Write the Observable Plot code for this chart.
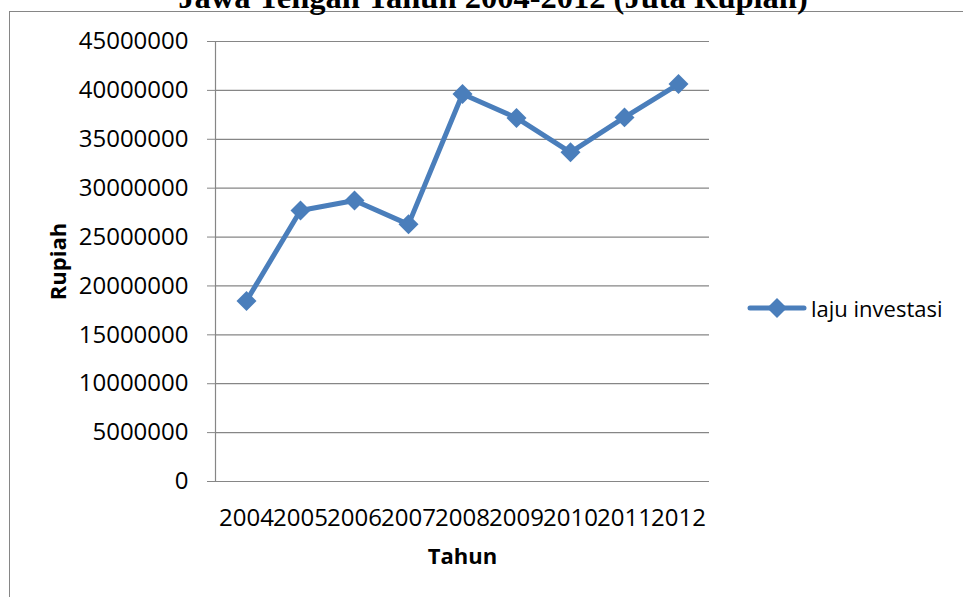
<!DOCTYPE html>
<html>
<head>
<meta charset="utf-8">
<script src="https://cdn.jsdelivr.net/npm/d3@7"></script>
<script src="https://cdn.jsdelivr.net/npm/@observablehq/plot@0.6"></script>
<style>
  html, body { margin: 0; padding: 0; background: #fff; }
  #wrap { position: relative; width: 963px; height: 597px; overflow: hidden; background: #fff; }
  #border { position: absolute; left: 9px; top: 11px; width: 1000px; height: 1000px;
            border-left: 1.5px solid #868686; border-top: 1.5px solid #868686; }
  #title { position: absolute; left: 493px; top: -19px; transform: translateX(-50%);
           white-space: nowrap; font-family: "Liberation Serif", "Times New Roman", serif;
           font-weight: bold; font-size: 32.5px; line-height: 32px; color: #000; }
  #chart { position: absolute; left: 0; top: 0; }
  #legend { position: absolute; left: 747px; top: 293px; display: flex; align-items: center;
            font-family: "Open Sans", sans-serif; font-size: 22px; color: #000; white-space: nowrap; }
  #legend svg { display: block; margin-right: 4px; }
</style>
</head>
<body>
<div id="wrap">
  <div id="border"></div>
  <div id="title"></div>
  <div id="chart"></div>
  <div id="legend"></div>
</div>
<script>
const titleText = "Jawa Tengah Tahun 2004-2012 (Juta Rupiah)";
const years = ["2004", "2005", "2006", "2007", "2008", "2009", "2010", "2011", "2012"];
const values = [18470000, 27720000, 28740000, 26300000, 39630000, 37180000, 33670000, 37240000, 40650000];
const yTicks = [0, 5000000, 10000000, 15000000, 20000000, 25000000, 30000000, 35000000, 40000000, 45000000];
const seriesName = "laju investasi";
const yLabel = "Rupiah";
const xLabel = "Tahun";

const blue = "#4A7EBB";
const grey = "#868686";

const data = years.map((year, i) => ({year, value: values[i]}));

document.getElementById("title").textContent = titleText;

const chart = Plot.plot({
  width: 963,
  height: 597,
  marginLeft: 215,
  marginRight: 254,
  marginTop: 41,
  marginBottom: 116,
  style: {fontFamily: "'Open Sans', sans-serif", fontSize: "24px", color: "#000", background: "transparent"},
  x: {type: "point", domain: years, padding: 0.5},
  y: {domain: [0, 45000000]},
  marks: [
    Plot.gridY(yTicks, {stroke: grey, strokeOpacity: 1, strokeWidth: 1.2}),
    Plot.frame({anchor: "left", stroke: grey, strokeWidth: 1.2}),
    Plot.axisY(yTicks, {tickSize: 8, tickPadding: 19, tickFormat: d3.format("d"), stroke: grey, label: null, fontSize: 24}),
    Plot.axisX({tickSize: 0, tickPadding: 27, label: null, fontSize: 24}),
    Plot.line(data, {x: "year", y: "value", stroke: blue, strokeWidth: 5, strokeLinejoin: "round", strokeLinecap: "round"}),
    Plot.dot(data, {x: "year", y: "value", symbol: "diamond2", r: 9, fill: blue, stroke: "none"}),
    Plot.text([yLabel], {frameAnchor: "left", rotate: -90, dx: -157, textAnchor: "middle", lineAnchor: "middle", fontWeight: "bold", fontSize: 22}),
    Plot.text([xLabel], {frameAnchor: "bottom", dy: 75, textAnchor: "middle", lineAnchor: "middle", fontWeight: "bold", fontSize: 22})
  ]
});
document.getElementById("chart").appendChild(chart);

// legend
const legend = document.getElementById("legend");
const sw = d3.create("svg").attr("width", 60).attr("height", 26);
sw.append("line").attr("x1", 3).attr("x2", 57).attr("y1", 13).attr("y2", 13)
  .attr("stroke", blue).attr("stroke-width", 5).attr("stroke-linecap", "round");
sw.append("path").attr("d", d3.symbol(d3.symbolDiamond2, Math.PI * 81)()).attr("transform", "translate(30,13)").attr("fill", blue);
legend.appendChild(sw.node());
const lt = document.createElement("span");
lt.textContent = seriesName;
legend.appendChild(lt);
</script>
</body>
</html>
